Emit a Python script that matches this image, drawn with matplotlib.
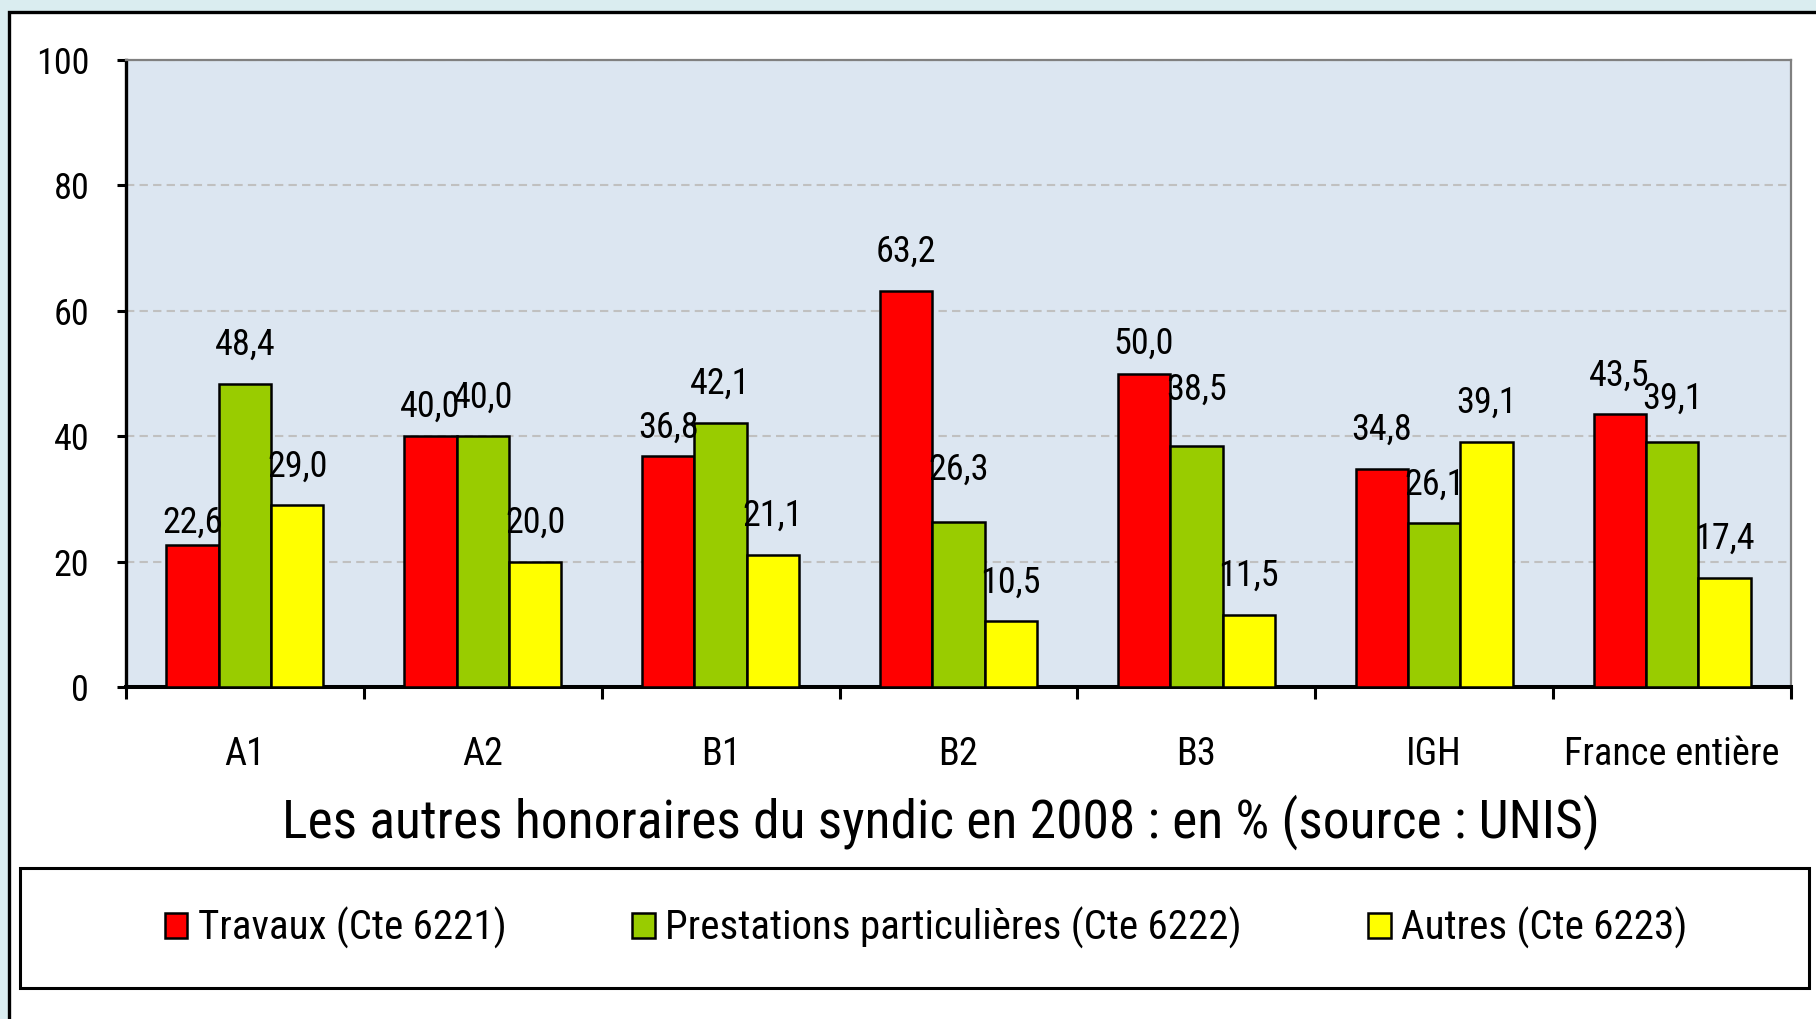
import matplotlib
matplotlib.use("Agg")
import matplotlib.pyplot as plt
from matplotlib.patches import Rectangle, Patch
import numpy as np

plt.rcParams['font.family'] = ['Liberation Sans Narrow', 'Arial Narrow', 'Roboto Condensed',
                               'Archivo Narrow', 'PT Sans Narrow', 'Sofia Sans Condensed',
                               'DejaVu Sans']

categories = ["A1", "A2", "B1", "B2", "B3", "IGH", "France entière"]
series_names = ["Travaux (Cte 6221)", "Prestations particulières (Cte 6222)", "Autres (Cte 6223)"]
travaux = [22.6, 40.0, 36.8, 63.2, 50.0, 34.8, 43.5]
prestations = [48.4, 40.0, 42.1, 26.3, 38.5, 26.1, 39.1]
autres = [29.0, 20.0, 21.1, 10.5, 11.5, 39.1, 17.4]
title = "Les autres honoraires du syndic en 2008 : en % (source : UNIS)"

colors = ["#ff0000", "#99cc00", "#ffff00"]
# label nudges in pixels (style only)
nudges = [
    [-16, -9, -10, 0, -9, 0, 0],
    [0, 0, 0, 13, 17, 0, 4],
    [0, 0, 0, 0, 0, 0, 0],
]

W, H = 1816, 1019
fig = plt.figure(figsize=(W / 100, H / 100), dpi=100)
fig.patch.set_facecolor("#daedf0")

# white panel
fig.add_artist(Rectangle((9 / W, -0.2), 1.2, 0.2 + (1 - 12 / H), transform=fig.transFigure,
                         facecolor="white", edgecolor="black", linewidth=2.4, zorder=0))
# legend box
fig.add_artist(Rectangle((20 / W, 1 - 988 / H), 1789 / W, 120 / H, transform=fig.transFigure,
                         facecolor="white", edgecolor="black", linewidth=2.2, zorder=1))

ax = fig.add_axes([126 / W, 1 - 687 / H, (1791 - 126) / W, (687 - 60) / H])
ax.set_facecolor("#dce6f1")

x = np.arange(len(categories))
bw = 0.22
data = [travaux, prestations, autres]
for i, (vals, col, name) in enumerate(zip(data, colors, series_names)):
    bars = ax.bar(x + (i - 1) * bw, vals, bw, color=col, edgecolor="black", linewidth=1.8,
                  zorder=3, label=name)
    for j, (b, v) in enumerate(zip(bars, vals)):
        ax.annotate(f"{v:.1f}".replace(".", ","),
                    (b.get_x() + b.get_width() / 2, v),
                    xytext=(0, 28 + nudges[i][j] * 0.72), textcoords="offset points",
                    ha="center", va="center", fontsize=26, zorder=5)

ax.set_xlim(-0.5, len(categories) - 0.5)
ax.set_ylim(0, 100)
ax.set_yticks([0, 20, 40, 60, 80, 100])
ax.set_yticklabels(["0", "20", "40", "60", "80", "100"])
ax.tick_params(axis="y", length=6.5, width=2.2, pad=20, labelsize=26, direction="out")

ax.set_xticks(np.arange(len(categories) + 1) - 0.5)
ax.set_xticklabels([])
ax.set_xticks(x, minor=True)
ax.set_xticklabels(categories, minor=True)
ax.tick_params(axis="x", which="major", length=8.6, width=2.2, direction="out")
ax.tick_params(axis="x", which="minor", length=0, pad=35, labelsize=27.5)

ax.grid(axis="y", color="#c0c0c0", linestyle=(0, (4, 2.5)), linewidth=1.5, zorder=1)
ax.set_axisbelow(True)

for s in ["left", "bottom"]:
    ax.spines[s].set_color("black")
ax.spines["left"].set_linewidth(2.4)
ax.spines["bottom"].set_linewidth(2.9)
for s in ["top", "right"]:
    ax.spines[s].set_color("#808080")
    ax.spines[s].set_linewidth(1.6)

fig.text(941 / W, 1 - 822 / H, title, ha="center", va="center", fontsize=38.5)

handles = [Patch(facecolor=c, edgecolor="black", linewidth=1.8) for c in colors]
fig.legend(handles, series_names, loc="center", bbox_to_anchor=(926 / W, 1 - 928 / H),
           ncol=3, frameon=False, fontsize=29.5, handlelength=0.55, handleheight=0.55,
           handletextpad=0.25, columnspacing=3.08)

fig.savefig("out.png", dpi=100, facecolor=fig.get_facecolor())
